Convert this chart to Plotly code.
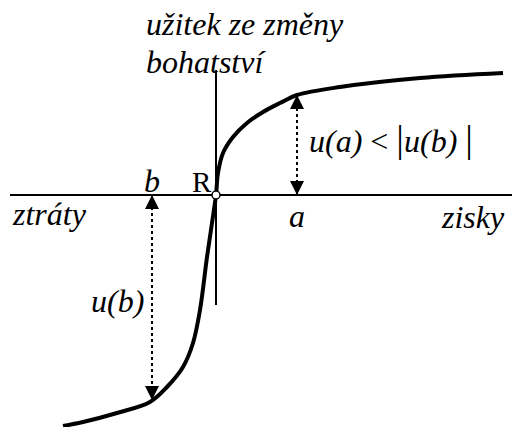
import plotly.graph_objects as go

# value function (origin at the reference point R)
wealth_change = [-153, -133, -99, -66, -49, -33, -23, -16, -9, -4, 0,
                 2, 7, 17, 31, 47, 64, 81, 124, 204, 287]
utility = [-231, -227, -218, -207, -192, -172, -148, -115, -62, -28, 0,
           22, 42, 58, 72, 83, 92, 100, 108, 117, 122]

# the two compared outcomes
gain_a = 81
loss_b = -64
u_a = 100
u_b = -205

# axis extents
x_axis_span = [-206, 304]
y_axis_span = [-110, 125]

serif = "Liberation Serif"

fig = go.Figure()

# axes
fig.add_trace(go.Scatter(x=x_axis_span, y=[0, 0], mode="lines",
                         line=dict(color="black", width=2), hoverinfo="skip"))
fig.add_trace(go.Scatter(x=[0, 0], y=y_axis_span, mode="lines",
                         line=dict(color="black", width=2), hoverinfo="skip"))

# value curve
fig.add_trace(go.Scatter(x=wealth_change, y=utility, mode="lines",
                         line=dict(color="black", width=4, shape="spline", smoothing=1.0),
                         hoverinfo="skip"))

# dotted measuring arrows
for xv, yv in [(gain_a, u_a), (loss_b, u_b)]:
    fig.add_trace(go.Scatter(x=[xv, xv], y=[0, yv], mode="lines",
                             line=dict(color="black", width=2, dash="dot"), hoverinfo="skip"))
    top, bottom = max(0, yv), min(0, yv)
    fig.add_trace(go.Scatter(x=[xv, xv], y=[top, bottom], mode="markers",
                             marker=dict(symbol=["arrow-up", "arrow-down"], size=14,
                                         color="black"),
                             hoverinfo="skip"))

# reference point R
fig.add_trace(go.Scatter(x=[0], y=[0], mode="markers",
                         marker=dict(symbol="circle", size=8, color="white",
                                     line=dict(color="black", width=1.5)),
                         hoverinfo="skip"))

bar = '<span style="font-size:38px">|</span>'
labels = [
    ("<i>užitek ze změny</i>", -72, 171, "left", 32),
    ("<i>bohatství</i>", -72, 133, "left", 32),
    ("<i>b</i>", loss_b, 14, "center", 32),
    ("R", -14, 13, "center", 29),
    ("<i>ztráty</i>", -206, -19, "left", 32),
    ("<i>a</i>", gain_a, -21, "center", 32),
    ("<i>zisky</i>", 291, -22, "right", 32),
    ("<i>u(b)</i>", -99, -106, "center", 32),
    (f"<i>u(a)</i> &lt; {bar}<i>u(b)</i> {bar}", 91, 56, "left", 32),
]
for txt, xv, yv, anchor, size in labels:
    fig.add_annotation(x=xv, y=yv, text=txt,
                       xanchor=anchor, yanchor="middle", showarrow=False,
                       font=dict(family=serif, size=size, color="black"))

# the page has an 8px body margin, so the figure is shifted by that much
fig.update_layout(
    width=512, height=419,
    margin=dict(l=0, r=0, t=0, b=0),
    plot_bgcolor="white", paper_bgcolor="white",
    showlegend=False,
    xaxis=dict(range=[-208, 304], visible=False, fixedrange=True),
    yaxis=dict(range=[-232, 187], visible=False, fixedrange=True),
)

fig.write_html("out.html")
